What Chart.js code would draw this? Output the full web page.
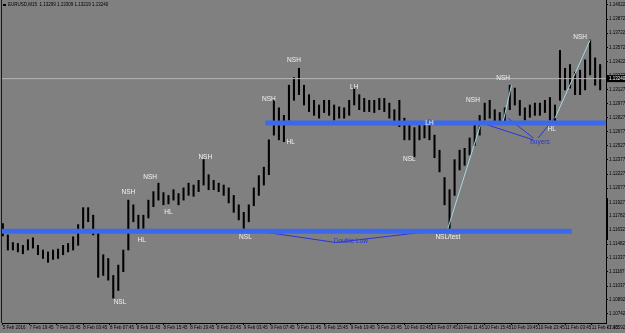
<!DOCTYPE html>
<html>
<head>
<meta charset="utf-8">
<script src="https://cdn.jsdelivr.net/npm/chart.js@4.4.0/dist/chart.umd.min.js"></script>
<style>
  html, body { margin: 0; padding: 0; background: #808080; overflow: hidden; }
  canvas { display: block; }
</style>
</head>
<body>
<canvas id="chart" width="625" height="333"></canvas>
<script>
// EURUSD M15, each entry = 3 bars (high / low of that block)
const barStep = 3;
const highs = [
  1.1170, 1.1158, 1.1150, 1.1149, 1.1147, 1.1153, 1.1155, 1.1147, 1.1142, 1.1140,
  1.1142, 1.1143, 1.1147, 1.1149, 1.1156, 1.1169, 1.1187, 1.1187, 1.1179, 1.1163,
  1.1137, 1.1133, 1.1115, 1.1126, 1.1142, 1.1195, 1.1190, 1.1179, 1.1179, 1.1195,
  1.1204, 1.1213, 1.1203, 1.1200, 1.1206, 1.1202, 1.1208, 1.1213, 1.1211, 1.1216,
  1.1238, 1.1222, 1.1216, 1.1213, 1.1211, 1.1208, 1.1200, 1.1190, 1.1182, 1.1190,
  1.1208, 1.1221, 1.1230, 1.1259, 1.1301, 1.1293, 1.1285, 1.1317, 1.1325, 1.1335,
  1.1317, 1.1307, 1.1301, 1.1296, 1.1301, 1.1301, 1.1296, 1.1294, 1.1293, 1.1301,
  1.1314, 1.1307, 1.1303, 1.1301, 1.1301, 1.1303, 1.1303, 1.1298, 1.1291, 1.1301,
  1.1282, 1.1275, 1.1272, 1.1275, 1.1275, 1.1280, 1.1264, 1.1248, 1.1219, 1.1206,
  1.1238, 1.1248, 1.1250, 1.1261, 1.1275, 1.1285, 1.1298, 1.1301, 1.1291, 1.1288,
  1.1293, 1.1317, 1.1314, 1.1301, 1.1293, 1.1296, 1.1298, 1.1298, 1.1301, 1.1304,
  1.1296, 1.1354, 1.1335, 1.1339, 1.1331, 1.1333, 1.1344, 1.1365, 1.1346, 1.1339
];
const lows = [
  1.1157, 1.1142, 1.1142, 1.1140, 1.1138, 1.1142, 1.1144, 1.1137, 1.1133, 1.1129,
  1.1132, 1.1133, 1.1137, 1.1140, 1.1142, 1.1147, 1.1165, 1.1172, 1.1158, 1.1113,
  1.1115, 1.1110, 1.1091, 1.1099, 1.1119, 1.1142, 1.1172, 1.1161, 1.1165, 1.1176,
  1.1188, 1.1195, 1.1190, 1.1191, 1.1195, 1.1190, 1.1195, 1.1200, 1.1199, 1.1204,
  1.1211, 1.1206, 1.1206, 1.1204, 1.1200, 1.1192, 1.1182, 1.1174, 1.1165, 1.1172,
  1.1189, 1.1200, 1.1211, 1.1222, 1.1264, 1.1259, 1.1257, 1.1280, 1.1301, 1.1307,
  1.1296, 1.1289, 1.1285, 1.1282, 1.1288, 1.1285, 1.1280, 1.1282, 1.1282, 1.1285,
  1.1296, 1.1291, 1.1289, 1.1289, 1.1288, 1.1291, 1.1289, 1.1282, 1.1275, 1.1273,
  1.1259, 1.1259, 1.1241, 1.1259, 1.1261, 1.1259, 1.1240, 1.1225, 1.1190, 1.1165,
  1.1200, 1.1227, 1.1232, 1.1243, 1.1253, 1.1264, 1.1280, 1.1282, 1.1278, 1.1278,
  1.1278, 1.1291, 1.1296, 1.1285, 1.1280, 1.1283, 1.1285, 1.1285, 1.1288, 1.1280,
  1.1278, 1.1301, 1.1312, 1.1314, 1.1307, 1.1307, 1.1312, 1.1328, 1.1317, 1.1312
];

// axis labels
const timeLabels = [
  '5 Feb 2016', '7 Feb 19:45', '7 Feb 23:45', '8 Feb 03:45', '8 Feb 07:45', '8 Feb 11:45',
  '8 Feb 15:45', '8 Feb 19:45', '8 Feb 23:45', '9 Feb 03:45', '9 Feb 07:45', '9 Feb 11:45',
  '9 Feb 15:45', '9 Feb 19:45', '9 Feb 23:45', '10 Feb 03:45', '10 Feb 07:45', '10 Feb 11:45',
  '10 Feb 15:45', '10 Feb 19:45', '10 Feb 23:45', '11 Feb 03:45', '11 Feb 07:45'
];
const timeLabelEvery = 16; // bars between time labels
const priceTicks = [
  1.14022, 1.13872, 1.13722, 1.13572, 1.13422, 1.13272, 1.13127, 1.12977, 1.12827, 1.12677,
  1.12527, 1.12377, 1.12227, 1.12077, 1.11927, 1.11782, 1.11632, 1.11482, 1.11337, 1.11187,
  1.11037, 1.10892, 1.10742, 1.10592
];
const headerText = 'EURUSD,M15  1.13299 1.13309 1.13219 1.13240';
const bidPrice = 1.13240;

// drawn objects: [bar, price] points
const resistLine = [[157, 1.1277], [361, 1.1277]];
const supportLine = [[-0.5, 1.1162], [340, 1.1162]];
const doubleLowLine = [[145, 1.1164], [199, 1.1150], [266, 1.1164]];
const trendLines = [
  [[266, 1.1165], [286, 1.1278]],
  [[299, 1.1278], [304, 1.1317]],
  [[330, 1.1282], [351, 1.1365]]
];
const buyersLines = [
  [[286, 1.1277], [317, 1.1259]],
  [[302, 1.1282], [317, 1.1261]],
  [[330, 1.1283], [320, 1.1261]]
];

// text marks: text, bar, price
const noteTexts  = ['NSH', 'HL', 'NSL', 'NSH', 'HL', 'NSH', 'NSL', 'NSH', 'HL', 'NSH', 'LH', 'NSL', 'LH', 'NSH', 'NSH', 'NSH', 'HL', 'NSL/test', 'Double Low', 'buyers'];
const noteBars   = [75, 83, 70, 88, 99, 121, 145, 159, 172, 174, 210, 243, 255, 281, 299, 345, 328, 266, 208, 321];
const notePrices = [1.1203, 1.1152, 1.1087, 1.1219, 1.1182, 1.1241, 1.1156, 1.1302, 1.1257, 1.1344, 1.1315, 1.1238, 1.1277, 1.1301, 1.1324, 1.1368, 1.1270, 1.1156, 1.1151, 1.1257];

const BLUE = '#3c68ec';
const DARK_BLUE = '#2a36d8';
const CYAN = '#a6d8e4';

const pts = arr => arr.map(p => ({ x: p[0], y: p[1] }));
const lineSet = (arr, color, width) => ({
  type: 'line', data: pts(arr), borderColor: color, borderWidth: width,
  pointRadius: 0, fill: false, tension: 0, order: 1
});

const datasets = [
  {
    type: 'bar',
    data: highs.map((h, i) => ({ x: i * barStep, y: [lows[i], h] })),
    backgroundColor: '#000',
    barThickness: 1.4,
    order: 5
  },
  lineSet([[-0.5, bidPrice], [360.5, bidPrice]], '#b4b4b4', 1),
  lineSet(resistLine, BLUE, 5),
  lineSet(supportLine, BLUE, 5),
  lineSet(doubleLowLine, DARK_BLUE, 1),
  ...trendLines.map(l => lineSet(l, CYAN, 1)),
  ...buyersLines.map(l => lineSet(l, DARK_BLUE, 1))
];

const decorPlugin = {
  id: 'decor',
  afterDatasetsDraw(chart) {
    const { ctx, scales: { x, y } } = chart;
    ctx.save();
    ctx.textAlign = 'center';
    ctx.textBaseline = 'middle';
    ctx.font = '6.5px "Liberation Sans"';
    noteTexts.forEach((t, i) => {
      ctx.fillStyle = (t === 'Double Low' || t === 'buyers') ? DARK_BLUE : '#f2f2f2';
      ctx.fillText(t, x.getPixelForValue(noteBars[i]), y.getPixelForValue(notePrices[i]));
    });
    ctx.restore();
  },
  afterDraw(chart) {
    const { ctx, scales: { y }, chartArea } = chart;
    ctx.save();
    // left frame
    ctx.fillStyle = '#1a1a1a';
    ctx.fillRect(1, 0, 1, chartArea.bottom);
    // header
    ctx.fillStyle = '#000';
    ctx.fillRect(3, 4, 3, 2);
    ctx.font = '4.5px "Liberation Sans"';
    ctx.textBaseline = 'middle';
    ctx.textAlign = 'left';
    ctx.fillText(headerText, 8, 5);
    // bid price box
    const by = y.getPixelForValue(bidPrice);
    ctx.fillStyle = '#000';
    ctx.fillRect(chartArea.right + 1, by - 3.5, 19, 7);
    ctx.fillStyle = '#fff';
    ctx.fillText(bidPrice.toFixed(5), chartArea.right + 3, by);
    // scroll marker
    ctx.fillStyle = '#000';
    ctx.fillRect(chartArea.right, 198, 2, 42);
    ctx.restore();
  }
};

new Chart(document.getElementById('chart'), {
  type: 'bar',
  data: { datasets },
  options: {
    responsive: false,
    animation: false,
    devicePixelRatio: 1,
    layout: { padding: { left: 2, top: 0, right: 0, bottom: 0 } },
    plugins: { legend: { display: false }, tooltip: { enabled: false } },
    scales: {
      x: {
        type: 'linear', position: 'bottom', min: -0.5, max: 360.5, offset: false,
        afterBuildTicks: s => { s.ticks = timeLabels.map((_, i) => ({ value: i * timeLabelEvery })); },
        afterFit: s => { s.height = 10; s.paddingLeft = 0; s.paddingRight = 0; },
        grid: { drawOnChartArea: false, offset: false, tickLength: 2, color: '#000' },
        border: { color: '#000' },
        ticks: {
          autoSkip: false, maxRotation: 0, align: 'start', padding: 0,
          color: '#000', font: { size: 4.5, family: 'Liberation Sans' },
          callback: (v, i) => timeLabels[i]
        }
      },
      y: {
        type: 'linear', position: 'right', min: 1.10645, max: 1.14075,
        afterBuildTicks: s => { s.ticks = priceTicks.map(v => ({ value: v })); },
        afterFit: s => { s.width = 19; s.paddingTop = 0; s.paddingBottom = 0; },
        grid: { drawOnChartArea: false, tickLength: 2, color: '#000' },
        border: { color: '#000' },
        ticks: {
          padding: 1, color: '#000', font: { size: 4.5, family: 'Liberation Sans' },
          callback: v => v.toFixed(5)
        }
      }
    }
  },
  plugins: [decorPlugin]
});
</script>
</body>
</html>
